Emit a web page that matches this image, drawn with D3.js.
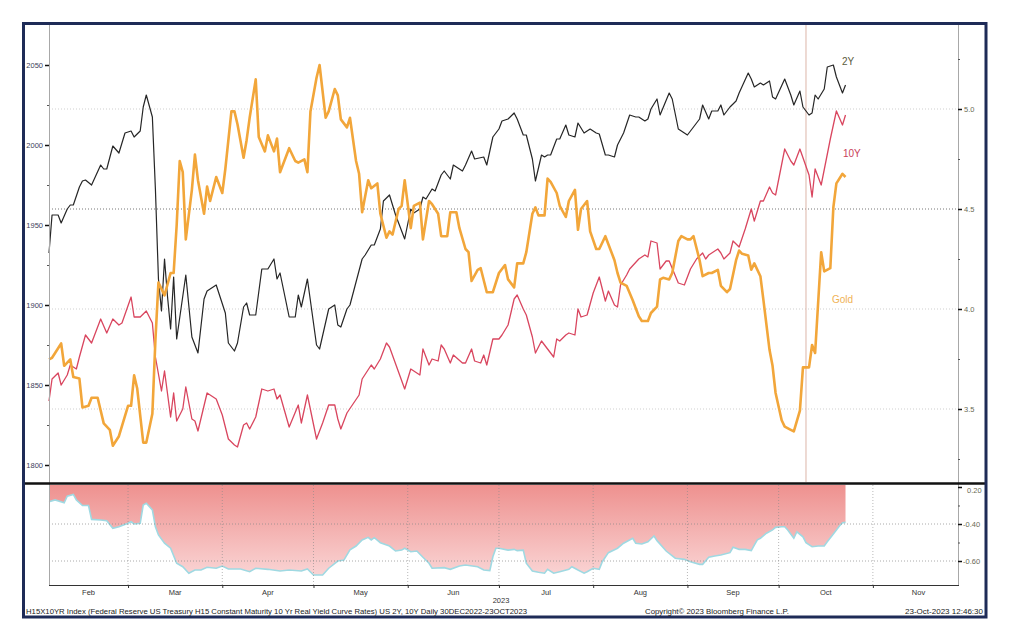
<!DOCTYPE html>
<html><head><meta charset="utf-8">
<script src="https://cdn.jsdelivr.net/npm/d3@7"></script>
<style>
body{margin:0;background:#fff}
svg{display:block}
text{font-family:"Liberation Sans",Arial,sans-serif}
</style>
</head><body>
<svg id="c" width="1010" height="634"></svg>
<script>
// ---- data: [day of year 2023, value] ----
const twoY = [[34,4.28],[35,4.47],[37,4.47],[38,4.43],[40,4.50],[41,4.52],[42,4.52],[44,4.61],[45,4.64],[46,4.645],[48,4.62],[51,4.72],[52,4.70],[53,4.70],[55,4.815],[57,4.78],[59,4.88],[61,4.89],[62,4.86],[64,4.89],[65,5.01],[66,5.07],[68,4.96],[69,4.60],[70,4.15],[71,3.99],[72,4.25],[73,4.06],[74,3.90],[75,4.16],[76,3.85],[79,4.17],[81,3.86],[83,3.78],[85,4.05],[86,4.09],[89,4.12],[92,3.98],[93,3.83],[95,3.79],[96,3.83],[98,4.01],[99,4.03],[100,3.97],[102,3.97],[104,4.20],[106,4.20],[108,4.25],[109,4.15],[110,4.18],[113,3.96],[115,3.96],[116,4.07],[117,4.01],[119,4.15],[122,3.82],[123,3.80],[126,4.00],[128,4.02],[129,3.92],[130,3.91],[132,4.00],[133,4.02],[137,4.25],[138,4.27],[140,4.32],[141,4.32],[143,4.40],[144,4.54],[146,4.57],[148,4.47],[151,4.35],[153,4.50],[154,4.48],[156,4.50],[157,4.56],[158,4.55],[160,4.60],[161,4.59],[163,4.67],[164,4.69],[166,4.65],[167,4.72],[170,4.69],[171,4.72],[173,4.79],[174,4.75],[177,4.76],[178,4.72],[180,4.86],[182,4.90],[183,4.94],[185,4.95],[187,4.98],[188,4.95],[190,4.87],[191,4.87],[193,4.75],[194,4.64],[196,4.77],[197,4.76],[198,4.77],[199,4.77],[201,4.85],[202,4.85],[204,4.92],[205,4.87],[207,4.86],[208,4.93],[210,4.88],[212,4.90],[214,4.88],[215,4.875],[217,4.77],[218,4.77],[220,4.76],[221,4.82],[223,4.88],[225,4.97],[227,4.96],[228,4.96],[230,4.94],[231,4.95],[232,5.00],[234,5.05],[235,4.97],[238,5.08],[239,5.05],[241,4.90],[244,4.87],[245,4.89],[248,4.95],[249,5.02],[251,4.95],[252,4.99],[254,4.99],[255,5.02],[256,4.97],[258,5.01],[260,5.04],[261,5.08],[264,5.18],[265,5.15],[266,5.11],[268,5.13],[269,5.12],[271,5.14],[272,5.06],[273,5.05],[276,5.15],[278,5.07],[279,5.02],[281,5.09],[282,5.01],[284,4.97],[285,4.98],[286,5.07],[287,5.05],[289,5.10],[290,5.21],[292,5.22],[293,5.16],[295,5.08],[296,5.12]];

const tenY = [[34,3.54],[35,3.65],[37,3.68],[38,3.62],[40,3.67],[41,3.72],[43,3.70],[44,3.76],[46,3.87],[48,3.83],[51,3.95],[53,3.88],[55,3.95],[57,3.92],[58,3.93],[61,4.06],[62,3.96],[64,3.96],[66,3.99],[68,3.93],[69,3.76],[71,3.59],[72,3.69],[74,3.46],[75,3.58],[76,3.44],[78,3.50],[79,3.61],[81,3.45],[82,3.44],[83,3.39],[86,3.58],[89,3.55],[91,3.47],[93,3.35],[95,3.32],[96,3.31],[98,3.42],[99,3.43],[100,3.40],[102,3.46],[104,3.60],[106,3.59],[108,3.60],[109,3.55],[110,3.57],[113,3.41],[116,3.52],[117,3.43],[119,3.57],[122,3.35],[124,3.43],[126,3.52],[128,3.52],[129,3.45],[130,3.40],[132,3.48],[136,3.57],[137,3.65],[140,3.72],[141,3.70],[143,3.75],[145,3.83],[146,3.81],[151,3.60],[153,3.70],[154,3.69],[156,3.67],[157,3.80],[159,3.72],[160,3.75],[162,3.74],[163,3.82],[164,3.80],[166,3.73],[167,3.77],[170,3.73],[171,3.73],[173,3.80],[174,3.74],[176,3.73],[177,3.77],[178,3.72],[180,3.85],[182,3.85],[183,3.87],[185,3.92],[187,4.05],[188,4.07],[190,4.00],[191,3.97],[193,3.86],[194,3.78],[196,3.84],[197,3.82],[200,3.76],[201,3.85],[202,3.84],[204,3.87],[205,3.88],[207,3.87],[208,4.00],[209,3.96],[211,3.97],[213,4.08],[215,4.16],[217,4.04],[218,4.09],[220,4.02],[221,4.01],[222,4.12],[224,4.17],[225,4.20],[228,4.25],[230,4.27],[231,4.26],[232,4.34],[234,4.33],[235,4.20],[237,4.24],[238,4.24],[241,4.13],[243,4.12],[245,4.20],[247,4.25],[249,4.28],[250,4.25],[251,4.27],[254,4.30],[255,4.28],[256,4.25],[258,4.28],[259,4.34],[261,4.31],[263,4.40],[265,4.50],[266,4.44],[268,4.54],[269,4.54],[271,4.61],[272,4.58],[273,4.57],[276,4.80],[278,4.74],[279,4.72],[281,4.80],[284,4.67],[285,4.56],[286,4.70],[288,4.62],[291,4.85],[293,4.99],[295,4.92],[296,4.97]];

const gold = [[34,1866],[35,1867],[37,1873],[38,1876],[39,1862],[41,1866],[42,1855],[44,1854],[45,1836],[47,1837],[48,1842],[50,1842],[52,1826],[54,1822],[55,1812],[57,1818],[60,1837],[61,1837],[62,1856],[63,1848],[65,1814],[66,1814],[68,1832],[69,1878],[70,1914],[72,1906],[74,1920],[75,1920],[76,1950],[77,1990],[78,1983],[79,1941],[81,1972],[82,1994],[83,1978],[85,1957],[86,1974],[87,1965],[89,1980],[91,1970],[92,1985],[94,2021],[95,2021],[96,2013],[98,1992],[99,2003],[100,2017],[102,2041],[103,2005],[105,1996],[106,2006],[108,1996],[109,2004],[110,1983],[113,1998],[115,1990],[116,1989],[118,1991],[119,1983],[120,2021],[122,2042],[123,2050],[125,2017],[126,2021],[128,2035],[129,2031],[130,2016],[132,2011],[133,2017],[135,1990],[136,1982],[137,1958],[139,1978],[140,1973],[142,1976],[143,1957],[145,1942],[146,1946],[147,1944],[149,1960],[150,1962],[151,1978],[153,1948],[154,1962],[156,1964],[157,1941],[159,1965],[160,1963],[162,1957],[163,1943],[165,1943],[166,1958],[168,1958],[169,1948],[171,1935],[172,1933],[173,1915],[175,1922],[176,1923],[178,1908],[180,1908],[182,1920],[184,1925],[185,1916],[187,1911],[188,1926],[190,1926],[191,1933],[193,1957],[194,1961],[195,1956],[197,1956],[198,1979],[199,1977],[201,1970],[202,1962],[204,1955],[205,1965],[207,1972],[208,1947],[209,1960],[211,1965],[212,1946],[214,1935],[215,1935],[217,1943],[218,1938],[220,1928],[221,1920],[222,1914],[224,1912],[226,1903],[228,1893],[229,1890],[231,1890],[232,1895],[234,1899],[235,1916],[236,1917],[238,1916],[239,1920],[241,1940],[242,1943],[244,1941],[245,1941],[246,1943],[248,1928],[249,1918],[251,1920],[252,1920],[254,1922],[255,1912],[257,1908],[258,1910],[260,1928],[261,1934],[262,1932],[264,1931],[265,1922],[266,1926],[268,1918],[269,1903],[271,1872],[272,1862],[273,1845],[275,1828],[276,1824],[278,1822],[279,1821],[281,1834],[282,1861],[284,1861],[285,1875],[286,1870],[288,1933],[289,1921],[291,1923],[292,1961],[293,1976],[295,1982],[296,1980]];

const realYield = [[34,-0.28],[36,-0.27],[39,-0.285],[40,-0.25],[42,-0.24],[43,-0.27],[45,-0.30],[47,-0.30],[48,-0.375],[51,-0.378],[53,-0.382],[55,-0.423],[57,-0.415],[60,-0.396],[61,-0.388],[62,-0.40],[64,-0.396],[65,-0.297],[66,-0.288],[68,-0.324],[69,-0.415],[70,-0.459],[72,-0.504],[74,-0.531],[76,-0.612],[78,-0.631],[80,-0.666],[82,-0.649],[84,-0.649],[86,-0.634],[89,-0.639],[91,-0.627],[93,-0.643],[97,-0.643],[100,-0.658],[102,-0.639],[106,-0.645],[110,-0.654],[113,-0.649],[117,-0.654],[119,-0.643],[121,-0.676],[124,-0.676],[126,-0.639],[129,-0.60],[131,-0.595],[133,-0.54],[135,-0.519],[137,-0.486],[139,-0.472],[140,-0.486],[141,-0.474],[143,-0.501],[146,-0.519],[148,-0.546],[150,-0.541],[151,-0.531],[153,-0.55],[155,-0.546],[157,-0.58],[159,-0.612],[160,-0.639],[164,-0.636],[166,-0.645],[169,-0.627],[171,-0.622],[175,-0.631],[177,-0.649],[179,-0.652],[180,-0.577],[181,-0.531],[182,-0.531],[185,-0.541],[187,-0.537],[188,-0.544],[190,-0.541],[191,-0.612],[193,-0.654],[195,-0.661],[197,-0.666],[198,-0.645],[200,-0.666],[202,-0.658],[205,-0.645],[206,-0.631],[208,-0.649],[210,-0.666],[211,-0.658],[213,-0.639],[215,-0.645],[216,-0.604],[218,-0.555],[221,-0.531],[223,-0.504],[226,-0.477],[227,-0.504],[229,-0.508],[231,-0.496],[233,-0.465],[234,-0.49],[237,-0.546],[240,-0.585],[243,-0.591],[245,-0.604],[248,-0.618],[249,-0.618],[251,-0.58],[253,-0.573],[255,-0.568],[258,-0.555],[259,-0.526],[261,-0.537],[263,-0.537],[265,-0.544],[266,-0.514],[267,-0.486],[268,-0.477],[270,-0.45],[272,-0.432],[273,-0.418],[275,-0.415],[276,-0.415],[277,-0.432],[279,-0.477],[280,-0.442],[282,-0.469],[283,-0.501],[285,-0.523],[287,-0.519],[289,-0.519],[290,-0.496],[292,-0.454],[294,-0.411],[295,-0.393],[296,-0.391]];

const leftTicks = [1800,1850,1900,1950,2000,2050];
const leftMinor = [1825,1875,1925,1975,2025];
const rightTicks = [3.5,4.0,4.5,5.0];
const rightMinor = [3.25,3.75,4.25,4.75,5.25];
const bottomTicks = [-0.20,-0.40,-0.60];
const bottomTickLabels = ["0.20","-0.40","-0.60"];
const bottomMinor = [-0.30,-0.50];
const monthLabels = ["Feb","Mar","Apr","May","Jun","Jul","Aug","Sep","Oct","Nov"];
const markerDay = 283;
const footerLeft = "H15X10YR Index (Federal Reserve US Treasury H15 Constant Maturity 10 Yr Real Yield Curve Rates) US 2Y, 10Y  Daily 30DEC2022-23OCT2023";
const footerMid = "Copyright\u00A9 2023 Bloomberg Finance L.P.";
const footerRight = "23-Oct-2023 12:46:30";

// ---- layout ----
const X0 = 49, X1 = 958, MT = 25, MB = 482, BT = 485, BB = 585;
const day = n => new Date(Date.UTC(2023, 0, n));
const x = d3.scaleUtc().domain([day(34), day(333)]).range([X0, X1]);
const yR = d3.scaleLinear().domain([3.135, 5.42]).range([MB, MT]);
const yL = d3.scaleLinear().domain([1789.375, 2075]).range([MB, MT]);
const yB = d3.scaleLinear().domain([-0.7297, -0.1892]).range([BB, BT]);

const svg = d3.select("#c");
svg.append("rect").attr("width",1010).attr("height",634).attr("fill","#fff");

const defs = svg.append("defs");
const grad = defs.append("linearGradient").attr("id","pinkG")
  .attr("gradientUnits","userSpaceOnUse").attr("x1",0).attr("x2",0).attr("y1",BT).attr("y2",578);
grad.append("stop").attr("offset","0").attr("stop-color","#ee918f");
grad.append("stop").attr("offset","1").attr("stop-color","#fad6d6");

// main gridlines
svg.append("g").selectAll("line").data(rightTicks).join("line")
  .attr("x1",X0).attr("x2",X1).attr("y1",d=>yR(d)).attr("y2",d=>yR(d))
  .attr("stroke",d=>d===4.5?"#777":"#cfcfcf").attr("stroke-width",1)
  .attr("stroke-dasharray","1,2");

// marker vertical line
svg.append("line").attr("x1",x(day(markerDay))).attr("x2",x(day(markerDay)))
  .attr("y1",MT).attr("y2",MB).attr("stroke","#dcb5a8").attr("stroke-width",1);

// series lines
const lineR = d3.line().x(d=>x(day(d[0]))).y(d=>yR(d[1]));
const lineL = d3.line().x(d=>x(day(d[0]))).y(d=>yL(d[1]));
svg.append("path").datum(tenY).attr("d",lineR).attr("fill","none")
  .attr("stroke","#d9465f").attr("stroke-width",1.3).attr("stroke-linejoin","round");
svg.append("path").datum(twoY).attr("d",lineR).attr("fill","none")
  .attr("stroke","#262626").attr("stroke-width",1.2).attr("stroke-linejoin","round");
svg.append("path").datum(gold).attr("d",lineL).attr("fill","none")
  .attr("stroke","#f2a63a").attr("stroke-width",2.6).attr("stroke-linejoin","round");

// series labels
svg.append("text").attr("x",842).attr("y",65).attr("font-size",10).attr("fill","#5b5b40").text("2Y");
svg.append("text").attr("x",843).attr("y",157).attr("font-size",10).attr("fill","#c9425a").text("10Y");
svg.append("text").attr("x",832).attr("y",303).attr("font-size",10).attr("fill","#f0b255").text("Gold");

// bottom panel area
const area = d3.area().x(d=>x(day(d[0]))).y0(BT).y1(d=>yB(d[1]));
svg.append("path").datum(realYield).attr("d",area).attr("fill","url(#pinkG)");
svg.append("path").datum(realYield).attr("d",d3.line().x(d=>x(day(d[0]))).y(d=>yB(d[1])))
  .attr("fill","none").attr("stroke","#9fd9e2").attr("stroke-width",1.6);

// bottom grid
svg.append("g").selectAll("line").data([-0.40,-0.60]).join("line")
  .attr("x1",X0).attr("x2",X1).attr("y1",d=>yB(d)).attr("y2",d=>yB(d))
  .attr("stroke","#888").attr("stroke-opacity",0.7).attr("stroke-dasharray","1,2");
const monthStarts = d3.utcMonth.range(day(40), day(333));
svg.append("g").selectAll("line").data(monthStarts).join("line")
  .attr("x1",d=>x(d)).attr("x2",d=>x(d)).attr("y1",BT).attr("y2",BB)
  .attr("stroke","#888").attr("stroke-opacity",0.6).attr("stroke-dasharray","1,2");

// axes lines
svg.append("line").attr("x1",X0+0.5).attr("x2",X0+0.5).attr("y1",MT).attr("y2",BB).attr("stroke","#a8a8a8");
svg.append("line").attr("x1",X1+0.5).attr("x2",X1+0.5).attr("y1",MT).attr("y2",BB).attr("stroke","#a8a8a8");
svg.append("line").attr("x1",X0).attr("x2",X1+1).attr("y1",BB+0.5).attr("y2",BB+0.5).attr("stroke","#333");

// left axis
const gl = svg.append("g");
gl.selectAll("line.maj").data(leftTicks).join("line").attr("class","maj")
  .attr("x1",45).attr("x2",X0).attr("y1",d=>yL(d)+0.5).attr("y2",d=>yL(d)+0.5).attr("stroke","#111").attr("stroke-width",1.5);
gl.selectAll("line.min").data(leftMinor).join("line").attr("class","min")
  .attr("x1",47).attr("x2",X0).attr("y1",d=>yL(d)+0.5).attr("y2",d=>yL(d)+0.5).attr("stroke","#555");
gl.selectAll("text").data(leftTicks).join("text")
  .attr("x",43).attr("y",d=>yL(d)+3).attr("text-anchor","end").attr("font-size",7.5)
  .attr("fill","#40425a").text(d=>d);

// right axis
const gr = svg.append("g");
gr.selectAll("line.maj").data(rightTicks).join("line").attr("class","maj")
  .attr("x1",X1).attr("x2",X1+4).attr("y1",d=>yR(d)+0.5).attr("y2",d=>yR(d)+0.5).attr("stroke","#111").attr("stroke-width",1.5);
gr.selectAll("line.min").data(rightMinor).join("line").attr("class","min")
  .attr("x1",X1).attr("x2",X1+2).attr("y1",d=>yR(d)+0.5).attr("y2",d=>yR(d)+0.5).attr("stroke","#555");
gr.selectAll("text").data(rightTicks).join("text")
  .attr("x",964).attr("y",d=>yR(d)+3).attr("font-size",7.5).attr("fill","#6a6a55").text(d=>d.toFixed(1));

// bottom right axis
const gb = svg.append("g");
gb.selectAll("line.maj").data(bottomTicks).join("line").attr("class","maj")
  .attr("x1",X1).attr("x2",X1+4).attr("y1",d=>yB(d)+0.5).attr("y2",d=>yB(d)+0.5).attr("stroke","#111").attr("stroke-width",1.5);
gb.selectAll("line.min").data(bottomMinor).join("line").attr("class","min")
  .attr("x1",X1).attr("x2",X1+2).attr("y1",d=>yB(d)+0.5).attr("y2",d=>yB(d)+0.5).attr("stroke","#555");
gb.selectAll("text").data(bottomTicks).join("text")
  .attr("x",d=>d===-0.20?967:963).attr("y",d=>yB(d)+(d===-0.20?6:3)).attr("font-size",7.5).attr("fill","#6a6a55")
  .text((d,i)=>bottomTickLabels[i]);

// month ticks and labels
svg.append("g").selectAll("line").data(monthStarts).join("line")
  .attr("x1",d=>x(d)+0.5).attr("x2",d=>x(d)+0.5).attr("y1",BB).attr("y2",BB+3).attr("stroke","#333");
const monthMid = monthLabels.map((m,i)=>{
  const s = i===0 ? day(34) : d3.utcMonth.offset(day(32), i);
  const e = d3.utcMonth.offset(day(32), i+1);
  return {m, x:(x(s)+x(e))/2};
});
svg.append("g").selectAll("text").data(monthMid).join("text")
  .attr("x",d=>d.x).attr("y",595).attr("text-anchor","middle").attr("font-size",7.5).attr("fill","#333").text(d=>d.m);
svg.append("text").attr("x",501).attr("y",603).attr("text-anchor","middle").attr("font-size",7.5).attr("fill","#333").text("2023");

// separator and frame
svg.append("line").attr("x1",23).attr("x2",986).attr("y1",483.5).attr("y2",483.5).attr("stroke","#111").attr("stroke-width",2.5);
svg.append("rect").attr("x",23.5).attr("y",23.5).attr("width",962.5).attr("height",593.5)
  .attr("fill","none").attr("stroke","#1e2b57").attr("stroke-width",3);

// footer
svg.append("text").attr("x",26).attr("y",614).attr("font-size",7.5).attr("fill","#222")
  .attr("textLength",501).attr("lengthAdjust","spacingAndGlyphs").text(footerLeft);
svg.append("text").attr("x",645).attr("y",614).attr("font-size",7.5).attr("fill","#222")
  .attr("textLength",144).attr("lengthAdjust","spacingAndGlyphs").text(footerMid);
svg.append("text").attr("x",905).attr("y",614).attr("font-size",7.5).attr("fill","#222")
  .attr("textLength",78).attr("lengthAdjust","spacingAndGlyphs").text(footerRight);
</script>
</body></html>
